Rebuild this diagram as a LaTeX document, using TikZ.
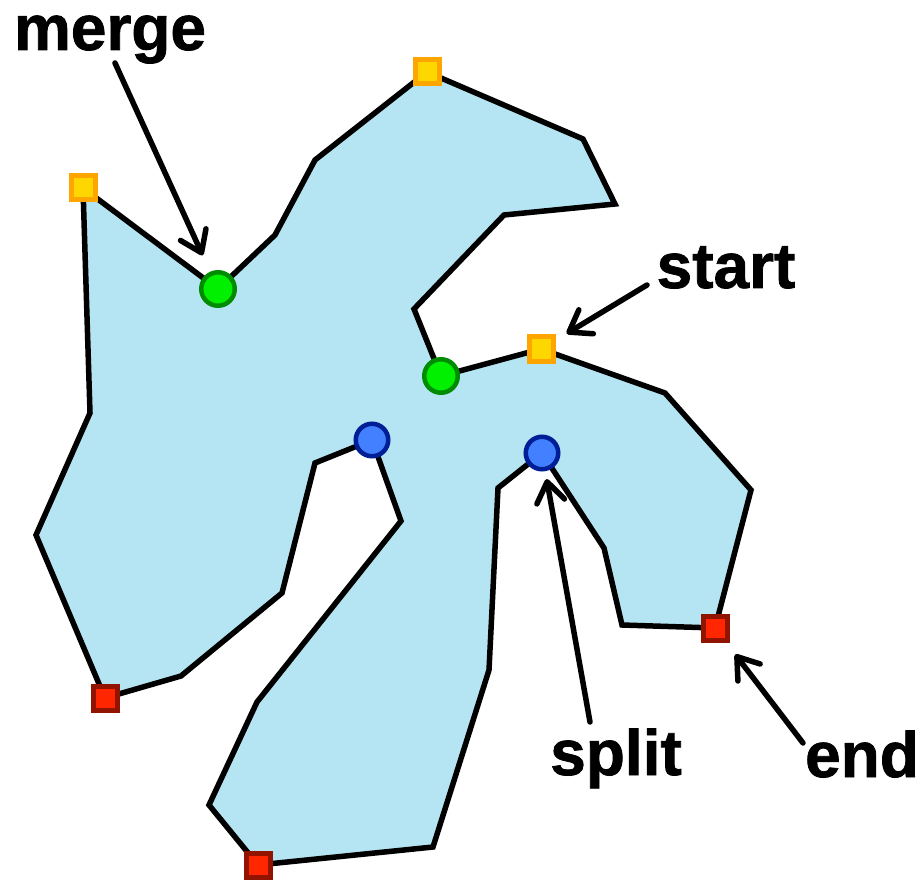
\documentclass[tikz,border=0pt]{standalone}
\usepackage{fontspec}
\setmainfont{Liberation Sans}
\newfontfamily\lblfont{Liberation Sans Bold}[FakeBold=1.2]
\usetikzlibrary{arrows.meta}
\definecolor{polyfill}{RGB}{181,229,242}
\definecolor{orangeborder}{RGB}{255,165,0}
\definecolor{orangefill}{RGB}{255,215,0}
\definecolor{redborder}{RGB}{145,20,0}
\definecolor{redfill}{RGB}{255,38,0}
\definecolor{greenborder}{RGB}{0,140,0}
\definecolor{greenfill}{RGB}{0,240,0}
\definecolor{blueborder}{RGB}{0,30,150}
\definecolor{bluefill}{RGB}{66,128,255}
\begin{document}
\begin{tikzpicture}[x=1pt,y=-1pt,
  poly/.style={fill=polyfill, draw=black, line width=5.5pt, line join=miter},
  startsq/.style={rectangle, draw=orangeborder, fill=orangefill, line width=5pt, minimum size=24pt, inner sep=0pt},
  endsq/.style={rectangle, draw=redborder, fill=redfill, line width=5pt, minimum size=24pt, inner sep=0pt},
  mergept/.style={circle, draw=greenborder, fill=greenfill, line width=4.5pt, minimum size=33.5pt, inner sep=0pt},
  splitpt/.style={circle, draw=blueborder, fill=bluefill, line width=4.5pt, minimum size=32.5pt, inner sep=0pt},
  lbl/.style={font=\fontsize{64}{64}\lblfont, inner sep=0pt, anchor=base},
  arr/.style={line width=5.5pt, line cap=round, -{Straight Barb[length=20pt,width=28pt,round]}}
]
\useasboundingbox (0,0) rectangle (923,882);
% polygon vertices
\coordinate (p1) at (83,188);
\coordinate (p2) at (218,289);
\coordinate (p3) at (275,235);
\coordinate (p4) at (315,160);
\coordinate (p5) at (427,72);
\coordinate (p6) at (583,139);
\coordinate (p7) at (615,204);
\coordinate (p8) at (504,215);
\coordinate (p9) at (414,309);
\coordinate (p10) at (441,376);
\coordinate (p11) at (541,349);
\coordinate (p12) at (665,393);
\coordinate (p13) at (751,490);
\coordinate (p14) at (715,628);
\coordinate (p15) at (622,625);
\coordinate (p16) at (604,548);
\coordinate (p17) at (542,453);
\coordinate (p18) at (498,488);
\coordinate (p19) at (489,670);
\coordinate (p20) at (433,847);
\coordinate (p21) at (258,865);
\coordinate (p22) at (209,805);
\coordinate (p23) at (257,702);
\coordinate (p24) at (401,521);
\coordinate (p25) at (372,440);
\coordinate (p26) at (315,463);
\coordinate (p27) at (282,593);
\coordinate (p28) at (181,676);
\coordinate (p29) at (105,698);
\coordinate (p30) at (36,535);
\coordinate (p31) at (90,413);
\draw[poly] (p1) -- (p2) -- (p3) -- (p4) -- (p5) -- (p6) -- (p7) -- (p8) -- (p9) -- (p10)
  -- (p11) -- (p12) -- (p13) -- (p14) -- (p15) -- (p16) -- (p17) -- (p18) -- (p19) -- (p20)
  -- (p21) -- (p22) -- (p23) -- (p24) -- (p25) -- (p26) -- (p27) -- (p28) -- (p29) -- (p30)
  -- (p31) -- cycle;
% markers
\node[startsq] (oA) at (p1) {};
\node[startsq] (oB) at (p5) {};
\node[startsq] (oC) at (p11) {};
\node[mergept] (g1) at (p2) {};
\node[mergept] (g2) at (p10) {};
\node[splitpt] (b1) at (p25) {};
\node[splitpt] (b2) at (p17) {};
\node[endsq] (rA) at (p14) {};
\node[endsq] (rB) at (p21) {};
\node[endsq] (rC) at (p29) {};
% labels
\node[lbl] (lmerge) at (110,50) {merge};
\node[lbl] (lstart) at (726,288) {start};
\node[lbl] (lsplit) at (616,775) {split};
\node[lbl] (lend) at (862,777) {end};
% arrows
\draw[arr, shorten >=18pt] ([xshift=5pt,yshift=-13pt]lmerge.base) -- (g1);
\draw[arr, shorten >=13pt] ([xshift=-79pt,yshift=3pt]lstart.base) -- (oC);
\draw[arr, shorten >=8pt] ([xshift=-26pt,yshift=53pt]lsplit.base) -- (b2);
\draw[arr, shorten >=15pt] ([xshift=-59pt,yshift=34pt]lend.base) -- (rA);
\end{tikzpicture}
\end{document}
